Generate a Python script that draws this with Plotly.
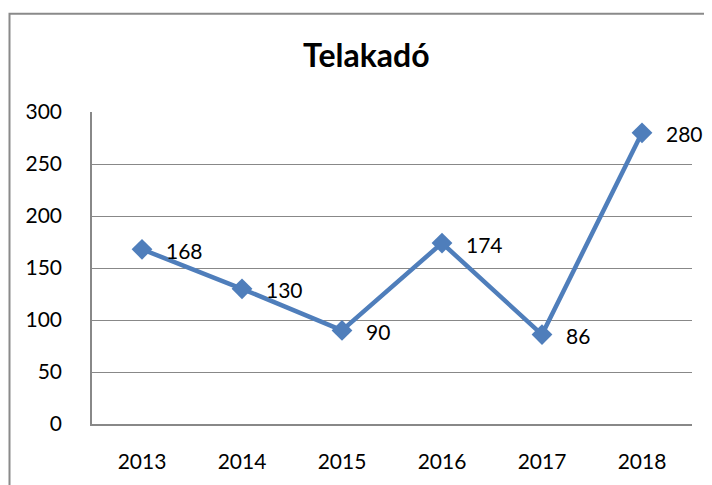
import plotly.graph_objects as go

years = ["2013", "2014", "2015", "2016", "2017", "2018"]
values = [168, 130, 90, 174, 86, 280]
y_ticks = [0, 50, 100, 150, 200, 250, 300]

FONT = "Lato, Open Sans, sans-serif"
BLUE = "#4F7EBB"
GRID = "#888888"

fig = go.Figure()
fig.add_trace(go.Scatter(
    x=years, y=values, mode="lines+markers",
    line=dict(color=BLUE, width=4.5),
    marker=dict(symbol="diamond", size=16, color=BLUE),
    showlegend=False, hoverinfo="skip",
))

for i, v in enumerate(values):
    fig.add_annotation(x=i, y=v, text=str(v), showarrow=False,
                       xanchor="left", yanchor="middle", xshift=22, yshift=-1,
                       font=dict(family=FONT, size=21, color="black"))

fig.add_shape(type="rect", xref="paper", yref="paper",
              x0=-0.1375, x1=1.06, y0=-0.25, y1=1.315,
              line=dict(color="#8a8a8a", width=2), layer="below")

fig.update_layout(
    width=704, height=477,
    margin=dict(l=84, r=20, t=104, b=56),
    paper_bgcolor="white", plot_bgcolor="white",
    title=dict(text="<b>Telakadó</b>", x=0.509, xanchor="center", y=0.899, yanchor="middle",
               font=dict(family=FONT, size=32, color="black")),
    xaxis=dict(type="category", range=[-0.5, 5.5], showgrid=False,
               showline=True, linecolor=GRID, linewidth=1.5,
               ticks="", tickfont=dict(family=FONT, size=21, color="black"),
               ticklabelstandoff=18, fixedrange=True),
    yaxis=dict(range=[0, 300], tickvals=y_ticks, showgrid=True, gridcolor=GRID,
               gridwidth=1, showline=True, linecolor=GRID, linewidth=1.5,
               zeroline=False, ticks="", tickfont=dict(family=FONT, size=21, color="black"),
               ticklabelstandoff=24, fixedrange=True),
)

fig.write_html("out.html")
